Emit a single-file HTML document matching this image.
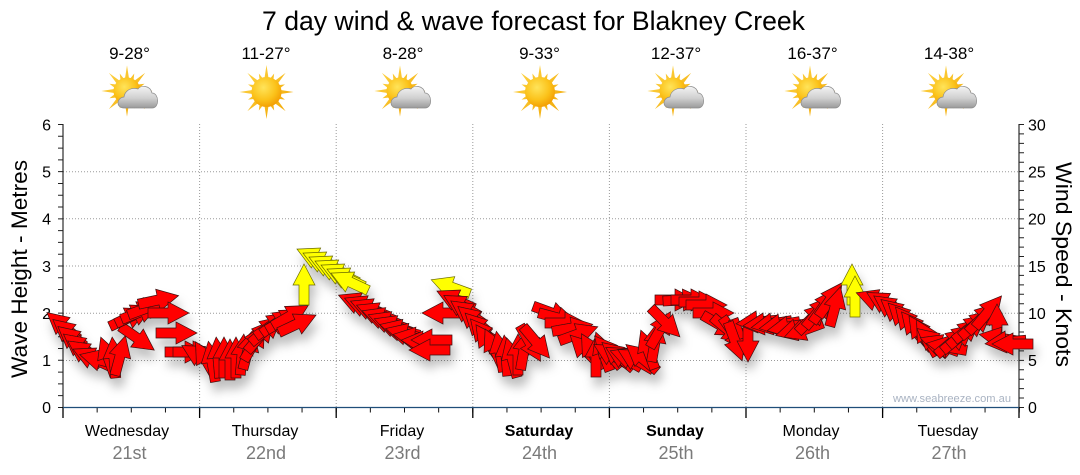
<!DOCTYPE html>
<html><head><meta charset="utf-8"><style>
html,body{margin:0;padding:0;background:#fff;}
svg{display:block;font-family:"Liberation Sans","DejaVu Sans",sans-serif;}
</style></head><body>
<svg width="1080" height="475" viewBox="0 0 1080 475" xmlns="http://www.w3.org/2000/svg">
<defs>
<path id="ap" d="M-20,-5H0V-11L21,0L0,11V5H-20Z"/>
<g id="r"><use href="#ap" fill="#ff0000" stroke="#3a1010" stroke-width="0.7"/></g>
<g id="y"><use href="#ap" fill="#ffff00" stroke="#6a6a00" stroke-width="0.7"/></g>
<filter id="sh" x="-10%" y="-20%" width="120%" height="160%">
<feDropShadow dx="3" dy="9" stdDeviation="5" flood-color="#000" flood-opacity="0.25"/>
</filter>
<radialGradient id="sung" cx="0.4" cy="0.35" r="0.7">
<stop offset="0" stop-color="#ffe45a"/><stop offset="0.6" stop-color="#fbc21a"/><stop offset="1" stop-color="#f29a00"/>
</radialGradient>
<linearGradient id="rayg" x1="0" y1="0" x2="1" y2="1">
<stop offset="0" stop-color="#ffd84a"/><stop offset="1" stop-color="#f0a400"/>
</linearGradient>
<linearGradient id="cloudg" x1="0" y1="0" x2="0" y2="1">
<stop offset="0" stop-color="#f4f4f4"/><stop offset="0.55" stop-color="#cfcfcf"/><stop offset="1" stop-color="#9a9a9a"/>
</linearGradient>
<polygon id="rays" fill="url(#rayg)" points="27,0 11.77,2.34 18.48,7.65 9.98,6.67 19.09,19.09 6.67,9.98 7.65,18.48 2.34,11.77 0,27 -2.34,11.77 -7.65,18.48 -6.67,9.98 -19.09,19.09 -9.98,6.67 -18.48,7.65 -11.77,2.34 -27,0 -11.77,-2.34 -18.48,-7.65 -9.98,-6.67 -19.09,-19.09 -6.67,-9.98 -7.65,-18.48 -2.34,-11.77 0,-27 2.34,-11.77 7.65,-18.48 6.67,-9.98 19.09,-19.09 9.98,-6.67 18.48,-7.65 11.77,-2.34"/>
<g id="sun"><use href="#rays"/><circle r="15" fill="url(#sung)"/></g>
<g id="sunc"><use href="#rays" transform="scale(0.95)"/><circle r="13.5" fill="url(#sung)"/></g>
<path id="cloud" d="M-14,11 C-22,11 -22,1 -14,0 C-13,-7 -6,-10 0,-8 C3,-12 12,-12 14,-4 C21,-4 22,11 14,11 Z" fill="url(#cloudg)" stroke="#8c8c8c" stroke-width="0.7"/>
</defs>

<text x="262" y="30" font-size="27" textLength="543" lengthAdjust="spacingAndGlyphs" fill="#000">7 day wind &amp; wave forecast for Blakney Creek</text>

<g font-size="17" fill="#000" text-anchor="middle">
<text x="129.5" y="59">9-28°</text>
<text x="266" y="59">11-27°</text>
<text x="403" y="59">8-28°</text>
<text x="539.5" y="59">9-33°</text>
<text x="676" y="59">12-37°</text>
<text x="812.5" y="59">16-37°</text>
<text x="949" y="59">14-38°</text>
</g>

<use href="#sunc" transform="translate(127,91)"/><use href="#cloud" transform="translate(138,97)"/>
<use href="#sun" transform="translate(266.5,92)"/>
<use href="#sunc" transform="translate(400,91)"/><use href="#cloud" transform="translate(411,97)"/>
<use href="#sun" transform="translate(540,92)"/>
<use href="#sunc" transform="translate(673,91)"/><use href="#cloud" transform="translate(684,97)"/>
<use href="#sunc" transform="translate(810,91)"/><use href="#cloud" transform="translate(821,97)"/>
<use href="#sunc" transform="translate(946,91)"/><use href="#cloud" transform="translate(957,97)"/>

<g stroke="#9a9a9a" stroke-width="1" stroke-dasharray="1 2" fill="none">
<path d="M63,360.5H1019M63,313.2H1019M63,266H1019M63,218.8H1019M63,171.7H1019"/>
<path d="M199.6,124V407M336.2,124V407M472.8,124V407M609.4,124V407M746,124V407M882.6,124V407"/>
</g>

<line x1="63" y1="124" x2="63" y2="408" stroke="#000" stroke-width="1"/>
<line x1="1019" y1="124" x2="1019" y2="408" stroke="#000" stroke-width="1"/>
<line x1="60.5" y1="124" x2="60.5" y2="409" stroke="#222" stroke-width="5" stroke-dasharray="1 10.79"/>
<line x1="1021.5" y1="124" x2="1021.5" y2="409" stroke="#222" stroke-width="5" stroke-dasharray="1 8.433"/>
<line x1="62.5" y1="410" x2="1020" y2="410" stroke="#111" stroke-width="5" stroke-dasharray="1 33.15"/>
<g stroke="#000" stroke-width="1.3">
<path d="M63,407V418M199.6,407V418M336.2,407V418M472.8,407V418M609.4,407V418M746,407V418M882.6,407V418M1019,407V418"/>
</g>
<line x1="63" y1="407.5" x2="1019" y2="407.5" stroke="#1f4e79" stroke-width="1.2"/>

<g font-size="16" fill="#000" text-anchor="end">
<text x="51" y="413">0</text>
<text x="51" y="366">1</text>
<text x="51" y="319">2</text>
<text x="51" y="272">3</text>
<text x="51" y="224.5">4</text>
<text x="51" y="177.5">5</text>
<text x="51" y="130.5">6</text>
</g>
<g font-size="16" fill="#000">
<text x="1028" y="413">0</text>
<text x="1028" y="366">5</text>
<text x="1028" y="319">10</text>
<text x="1028" y="272">15</text>
<text x="1028" y="224.5">20</text>
<text x="1028" y="177.5">25</text>
<text x="1028" y="130.5">30</text>
</g>

<text transform="translate(27,269) rotate(-90)" font-size="22" text-anchor="middle" textLength="218" lengthAdjust="spacingAndGlyphs" fill="#000">Wave Height - Metres</text>
<text transform="translate(1056,264.5) rotate(90)" font-size="22" text-anchor="middle" textLength="205" lengthAdjust="spacingAndGlyphs" fill="#000">Wind Speed - Knots</text>

<g font-size="16" fill="#000" text-anchor="middle">
<text x="127" y="436">Wednesday</text>
<text x="265" y="436">Thursday</text>
<text x="402" y="436">Friday</text>
<text x="539" y="436" font-weight="bold">Saturday</text>
<text x="675" y="436" font-weight="bold">Sunday</text>
<text x="811" y="436">Monday</text>
<text x="948" y="436">Tuesday</text>
</g>
<g font-size="18" fill="#7a7a7a" text-anchor="middle">
<text x="129.5" y="459">21st</text>
<text x="266" y="459">22nd</text>
<text x="402.5" y="459">23rd</text>
<text x="539.5" y="459">24th</text>
<text x="676" y="459">25th</text>
<text x="812.5" y="459">26th</text>
<text x="949" y="459">27th</text>
</g>

<text x="893" y="402" font-size="11" fill="#a9b3c2" textLength="118" lengthAdjust="spacingAndGlyphs">www.seabreeze.com.au</text>

<g filter="url(#sh)">
<use href="#r" transform="translate(63,326) rotate(-140)"/>
<use href="#r" transform="translate(69,333) rotate(-140)"/>
<use href="#r" transform="translate(74,340) rotate(-140)"/>
<use href="#r" transform="translate(80,347) rotate(-142)"/>
<use href="#r" transform="translate(85,353) rotate(-145)"/>
<use href="#r" transform="translate(92,358) rotate(-155)"/>
<use href="#r" transform="translate(100,360) rotate(-165)"/>
<use href="#r" transform="translate(108,357) rotate(-110)"/>
<use href="#r" transform="translate(114,358) rotate(-95)"/>
<use href="#r" transform="translate(120,356) rotate(-75)"/>
<use href="#r" transform="translate(137,338) rotate(35)"/>
<use href="#r" transform="translate(128,318) rotate(-25)"/>
<use href="#r" transform="translate(134,315) rotate(-25)"/>
<use href="#r" transform="translate(140,312) rotate(-22)"/>
<use href="#r" transform="translate(147,308) rotate(-20)"/>
<use href="#r" transform="translate(158,300) rotate(-12)"/>
<use href="#r" transform="translate(168,313) rotate(0)"/>
<use href="#r" transform="translate(176,333) rotate(0)"/>
<use href="#r" transform="translate(185,352) rotate(0)"/>
<use href="#r" transform="translate(193,352) rotate(0)"/>

<use href="#r" transform="translate(200,356) rotate(-150)"/>
<use href="#r" transform="translate(206,360) rotate(-120)"/>
<use href="#r" transform="translate(212,362) rotate(-100)"/>
<use href="#r" transform="translate(218,358) rotate(-95)"/>
<use href="#r" transform="translate(224,358) rotate(-90)"/>
<use href="#r" transform="translate(230,360) rotate(-90)"/>
<use href="#r" transform="translate(236,358) rotate(-90)"/>
<use href="#r" transform="translate(242,355) rotate(-85)"/>
<use href="#r" transform="translate(248,350) rotate(-75)"/>
<use href="#r" transform="translate(254,343) rotate(-60)"/>
<use href="#r" transform="translate(260,336) rotate(-50)"/>
<use href="#r" transform="translate(266,330) rotate(-40)"/>
<use href="#r" transform="translate(272,325) rotate(-35)"/>
<use href="#r" transform="translate(278,322) rotate(-35)"/>
<use href="#r" transform="translate(284,320) rotate(-30)"/>
<use href="#r" transform="translate(290,316) rotate(-30)"/>
<use href="#r" transform="translate(297,324) rotate(-25)"/>
<use href="#y" transform="translate(304,285) rotate(-90)"/>
<use href="#y" transform="translate(316,258) rotate(-155)"/>
<use href="#y" transform="translate(322,262) rotate(-155)"/>
<use href="#y" transform="translate(328,266) rotate(-155)"/>
<use href="#y" transform="translate(334,270) rotate(-155)"/>
<use href="#y" transform="translate(340,274) rotate(-155)"/>
<use href="#y" transform="translate(346,278) rotate(-155)"/>
<use href="#y" transform="translate(350,282) rotate(-155)"/>

<use href="#r" transform="translate(358,303) rotate(-158)"/>
<use href="#r" transform="translate(364,306) rotate(-158)"/>
<use href="#r" transform="translate(370,309) rotate(-158)"/>
<use href="#r" transform="translate(376,313) rotate(-158)"/>
<use href="#r" transform="translate(382,318) rotate(-160)"/>
<use href="#r" transform="translate(388,322) rotate(-160)"/>
<use href="#r" transform="translate(394,326) rotate(-160)"/>
<use href="#r" transform="translate(400,330) rotate(-165)"/>
<use href="#r" transform="translate(406,334) rotate(-165)"/>
<use href="#r" transform="translate(414,338) rotate(-170)"/>
<use href="#r" transform="translate(422,342) rotate(-175)"/>
<use href="#r" transform="translate(432,340) rotate(180)"/>
<use href="#r" transform="translate(430,350) rotate(180)"/>
<use href="#r" transform="translate(443,313) rotate(180)"/>
<use href="#y" transform="translate(451,287) rotate(-160)"/>
<use href="#r" transform="translate(456,300) rotate(-155)"/>
<use href="#r" transform="translate(462,306) rotate(-150)"/>
<use href="#r" transform="translate(468,313) rotate(-145)"/>
<use href="#r" transform="translate(474,320) rotate(-140)"/>
<use href="#r" transform="translate(480,328) rotate(-135)"/>
<use href="#r" transform="translate(484,335) rotate(-130)"/>
<use href="#r" transform="translate(488,342) rotate(-125)"/>

<use href="#r" transform="translate(494,348) rotate(-115)"/>
<use href="#r" transform="translate(500,352) rotate(-100)"/>
<use href="#r" transform="translate(506,356) rotate(-95)"/>
<use href="#r" transform="translate(512,358) rotate(-105)"/>
<use href="#r" transform="translate(518,355) rotate(-90)"/>
<use href="#r" transform="translate(524,350) rotate(-80)"/>
<use href="#r" transform="translate(530,343) rotate(60)"/>
<use href="#r" transform="translate(536,342) rotate(50)"/>
<use href="#r" transform="translate(552,313) rotate(20)"/>
<use href="#r" transform="translate(558,318) rotate(15)"/>
<use href="#r" transform="translate(565,323) rotate(0)"/>
<use href="#r" transform="translate(572,328) rotate(-10)"/>
<use href="#r" transform="translate(578,334) rotate(-20)"/>
<use href="#r" transform="translate(585,350) rotate(-135)"/>
<use href="#r" transform="translate(592,352) rotate(-120)"/>
<use href="#r" transform="translate(596,357) rotate(-90)"/>
<use href="#r" transform="translate(603,352) rotate(-110)"/>
<use href="#r" transform="translate(608,352) rotate(-130)"/>

<use href="#r" transform="translate(612,355) rotate(-150)"/>
<use href="#r" transform="translate(618,356) rotate(-140)"/>
<use href="#r" transform="translate(624,358) rotate(-150)"/>
<use href="#r" transform="translate(630,358) rotate(-160)"/>
<use href="#r" transform="translate(636,360) rotate(-150)"/>
<use href="#r" transform="translate(642,358) rotate(-140)"/>
<use href="#r" transform="translate(648,350) rotate(-110)"/>
<use href="#r" transform="translate(655,342) rotate(-80)"/>
<use href="#r" transform="translate(660,330) rotate(-60)"/>
<use href="#r" transform="translate(665,322) rotate(45)"/>
<use href="#r" transform="translate(675,300) rotate(0)"/>
<use href="#r" transform="translate(683,300) rotate(-3)"/>
<use href="#r" transform="translate(691,300) rotate(0)"/>
<use href="#r" transform="translate(699,302) rotate(0)"/>
<use href="#r" transform="translate(706,305) rotate(0)"/>
<use href="#r" transform="translate(713,313) rotate(0)"/>
<use href="#r" transform="translate(720,325) rotate(30)"/>
<use href="#r" transform="translate(728,330) rotate(40)"/>
<use href="#r" transform="translate(734,334) rotate(55)"/>
<use href="#r" transform="translate(740,338) rotate(70)"/>

<use href="#r" transform="translate(735,341) rotate(70)"/>
<use href="#r" transform="translate(748,341) rotate(90)"/>
<use href="#r" transform="translate(757,322) rotate(175)"/>
<use href="#r" transform="translate(764,324) rotate(175)"/>
<use href="#r" transform="translate(772,324) rotate(170)"/>
<use href="#r" transform="translate(780,325) rotate(170)"/>
<use href="#r" transform="translate(788,327) rotate(170)"/>
<use href="#r" transform="translate(796,330) rotate(165)"/>
<use href="#r" transform="translate(804,330) rotate(160)"/>
<use href="#r" transform="translate(812,318) rotate(-45)"/>
<use href="#r" transform="translate(818,312) rotate(-50)"/>
<use href="#r" transform="translate(824,306) rotate(-55)"/>
<use href="#r" transform="translate(830,300) rotate(-55)"/>
<use href="#r" transform="translate(835,307) rotate(-75)"/>
<use href="#y" transform="translate(852,285) rotate(-90)"/>
<use href="#y" transform="translate(855,297) rotate(-90)"/>

<use href="#r" transform="translate(876,300) rotate(-160)"/>
<use href="#r" transform="translate(885,303) rotate(-150)"/>
<use href="#r" transform="translate(891,308) rotate(-145)"/>
<use href="#r" transform="translate(897,313) rotate(-140)"/>
<use href="#r" transform="translate(903,318) rotate(-135)"/>
<use href="#r" transform="translate(909,323) rotate(-130)"/>
<use href="#r" transform="translate(915,328) rotate(-130)"/>
<use href="#r" transform="translate(921,333) rotate(-125)"/>
<use href="#r" transform="translate(927,338) rotate(-120)"/>
<use href="#r" transform="translate(933,342) rotate(-140)"/>
<use href="#r" transform="translate(940,345) rotate(-160)"/>
<use href="#r" transform="translate(947,347) rotate(-170)"/>
<use href="#r" transform="translate(952,342) rotate(-40)"/>
<use href="#r" transform="translate(958,338) rotate(-40)"/>
<use href="#r" transform="translate(964,333) rotate(-40)"/>
<use href="#r" transform="translate(970,328) rotate(-38)"/>
<use href="#r" transform="translate(976,324) rotate(-40)"/>
<use href="#r" transform="translate(982,318) rotate(-45)"/>
<use href="#r" transform="translate(988,312) rotate(-50)"/>
<use href="#r" transform="translate(997,325) rotate(-90)"/>
<use href="#r" transform="translate(1000,338) rotate(-170)"/>
<use href="#r" transform="translate(1006,342) rotate(175)"/>
<use href="#r" transform="translate(1013,344) rotate(180)"/>
</g>
</svg>
</body></html>
